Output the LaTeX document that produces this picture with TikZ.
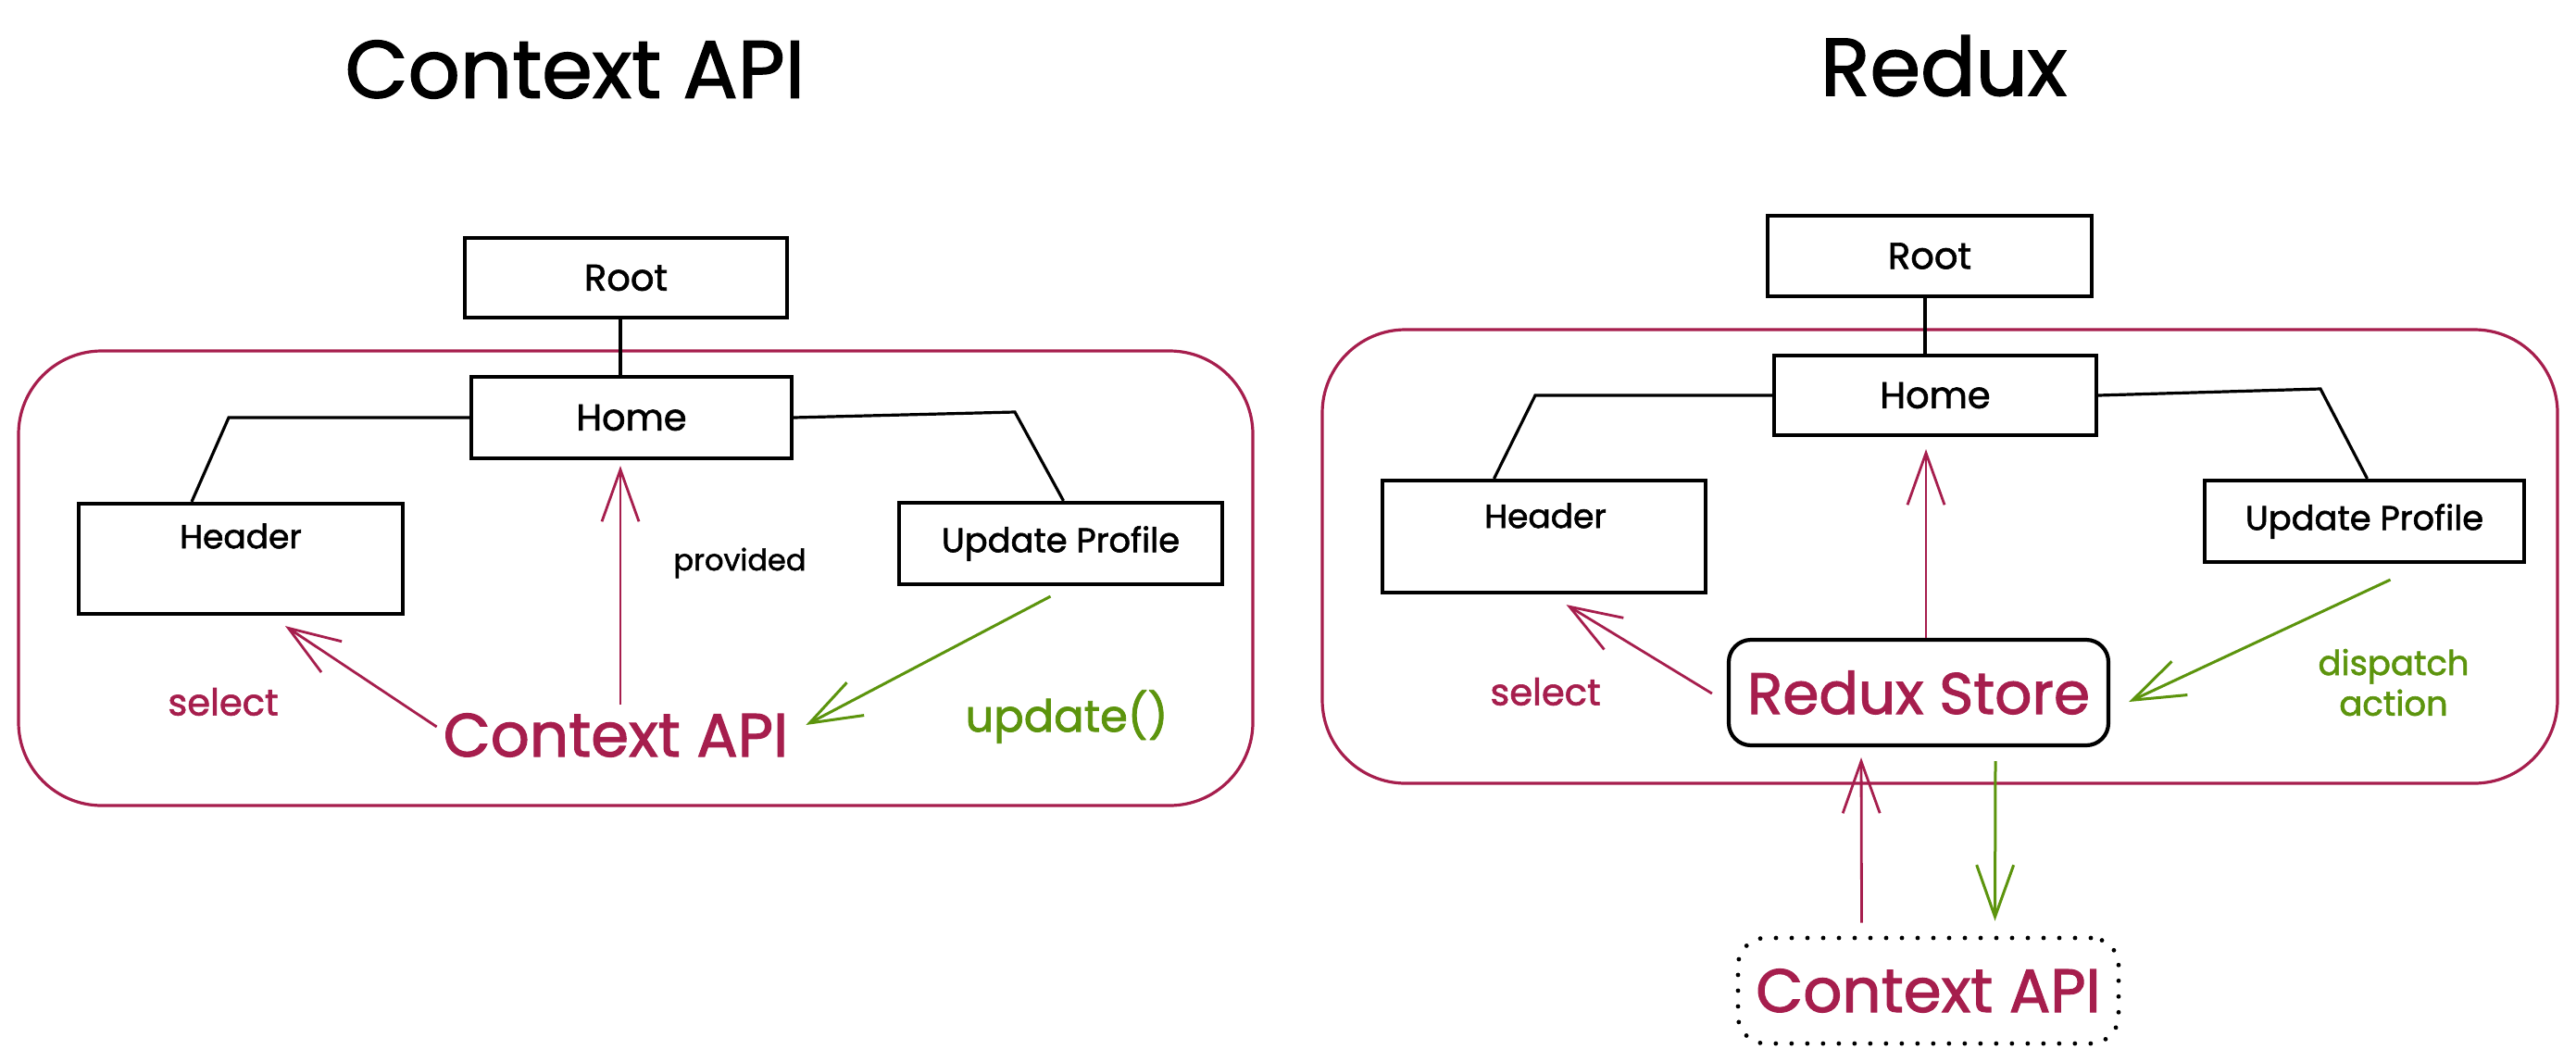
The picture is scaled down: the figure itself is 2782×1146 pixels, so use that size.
\documentclass[tikz,border=0pt]{standalone}
\usepackage{fontspec}
\setmainfont{Poppins}[FakeBold=1.6]
\usetikzlibrary{arrows.meta,calc}
\definecolor{mag}{HTML}{A61E4D}
\definecolor{grn}{HTML}{5C940D}
\newcommand\fsz[1]{\fontsize{#1}{#1}\selectfont}
\begin{document}
\begin{tikzpicture}[x=0.5pt,y=-0.5pt,
  cbox/.style={draw=black, line width=2.1pt, inner sep=0pt},
  conn/.style={draw=black, line width=1.6pt},
  outerbox/.style={draw=mag, line width=1.6pt, rounded corners=45pt},
  marrow/.style={draw=mag, line width=1.4pt, -{Straight Barb[length=28pt,width=20pt]}},
  garrow/.style={draw=grn, line width=1.5pt, -{Straight Barb[length=28pt,width=20pt]}},
  title/.style={font=\fsz{44}},
  lbl/.style={font=\fsz{20}}]
\fill[white] (0,0) rectangle (2782,1146);
\useasboundingbox (0,0) rectangle (2782,1146);

% ---------- Left: Context API ----------
\node[title] (titleL) at (621,75) {Context API};
\draw[outerbox] (20,379) rectangle (1353,870);
\node[cbox, minimum width=174pt, minimum height=43pt, lbl] (rootL) at (676,300) {Root};
\node[cbox, minimum width=173pt, minimum height=44pt, lbl] (homeL) at (682,451) {Home};
\node[cbox, minimum width=175pt, minimum height=59.5pt] (headerL) at (260,603.5) {};
\node[font=\fsz{18}] (headerLt) at (260,579) {Header};
\node[cbox, minimum width=174.5pt, minimum height=44pt, font=\fsz{18.4}] (updL) at (1145.5,587) {Update Profile};
\node[text=mag, font=\fsz{33}] (ctxL) at (665,794) {Context API};

\draw[conn] ($(rootL.south)+(-6,0)$) -- ($(homeL.north)+(-12,0)$);
\draw[conn] (homeL.west) -- (247,451) -- ($(headerL.north)+(-53,0)$);
\draw[conn] (homeL.east) -- (1096,445) -- ($(updL.north)+(3,0)$);

\draw[marrow] ($(ctxL.north)+(5,-2)$) -- ($(homeL.south)+(-12,6)$);
\draw[marrow] ($(ctxL.west)+(0,-9)$) -- ($(headerL.south)+(48,11)$);
\draw[garrow] ($(updL.south)+(-11,11)$) -- ($(ctxL.east)+(12,-11)$);

\node[font=\fsz{16}] (provL) at (799,608) {provided};
\node[text=mag, font=\fsz{20}] (selL) at (241,758) {select};
\node[text=grn, font=\fsz{24}] (updtxt) at (1152,774) {update()};

% ---------- Right: Redux ----------
\node[title] (titleR) at (2099,71) {Redux};
\draw[outerbox] (1428,356) rectangle (2762,846);
\node[cbox, minimum width=175pt, minimum height=43.5pt, lbl] (rootR) at (2084,276.5) {Root};
\node[cbox, minimum width=174pt, minimum height=43pt, lbl] (homeR) at (2090,427) {Home};
\node[cbox, minimum width=174.5pt, minimum height=60.5pt] (headerR) at (1667.5,579.5) {};
\node[font=\fsz{18}] (headerRt) at (1669,557) {Header};
\node[cbox, minimum width=172.5pt, minimum height=44pt, font=\fsz{18.4}] (updR) at (2553.5,563) {Update Profile};
\node[draw=black, line width=2.1pt, rounded corners=12pt, minimum width=205pt, minimum height=57pt, inner sep=0pt, text=mag, font=\fsz{31.5}] (storeR) at (2072,748) {Redux Store};
\node[draw=black, line width=2.4pt, dash pattern=on 0pt off 8.5pt, line cap=round, rounded corners=15pt, minimum width=205.5pt, minimum height=57pt, inner sep=0pt, text=mag, font=\fsz{33}] (ctxR) at (2082.5,1070) {Context API};

\draw[conn] ($(rootR.south)+(-5,0)$) -- ($(homeR.north)+(-11,0)$);
\draw[conn] (homeR.west) -- (1658,427) -- ($(headerR.north)+(-54,0)$);
\draw[conn] (homeR.east) -- (2506,420) -- ($(updR.north)+(3,0)$);

\draw[marrow] ($(storeR.north)+(8,0)$) -- ($(homeR.south)+(-10,13)$);
\draw[marrow] ($(storeR.west)+(-16,1)$) -- ($(headerR.south)+(24,11)$);
\draw[garrow] ($(updR.south)+(28,17)$) -- ($(storeR.east)+(20,10)$);
\draw[marrow] ($(ctxR.north)+(-72,-14)$) -- ($(storeR.south)+(-62,11)$);
\draw[garrow] ($(storeR.south)+(83,15)$) -- ($(ctxR.north)+(72,-16)$);

\node[text=mag, font=\fsz{20}] (selR) at (1669,747) {select};
\node[text=grn, font=\fsz{18.5}, align=center, inner sep=0pt] (dispR) at (2585,737) {dispatch\\[2pt]action};
\end{tikzpicture}
\end{document}
